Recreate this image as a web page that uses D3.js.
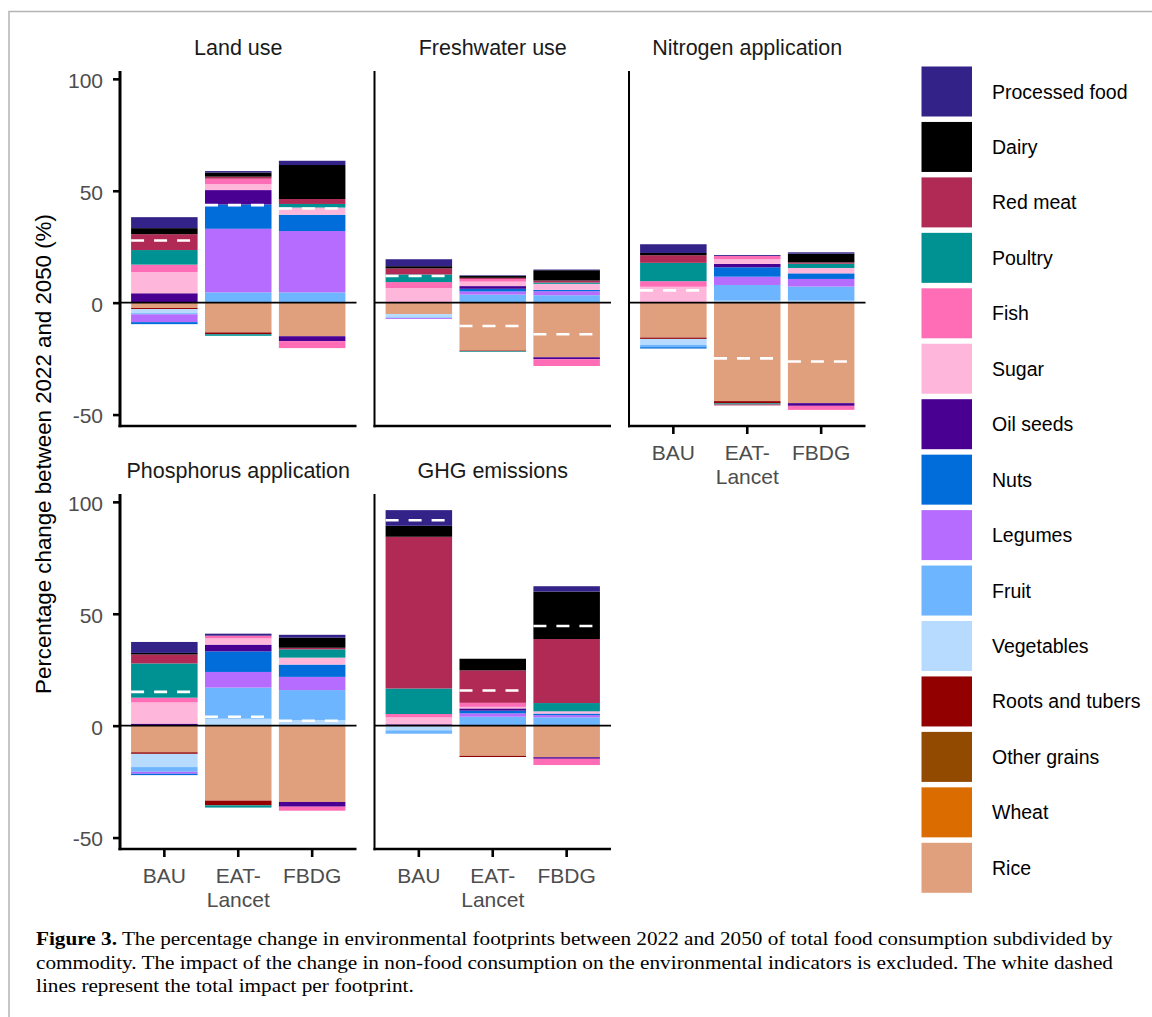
<!DOCTYPE html>
<html><head><meta charset="utf-8">
<script src="https://cdn.jsdelivr.net/npm/d3@7"></script>
<style>
html,body{margin:0;padding:0;background:#fff;}
svg{display:block;}
</style></head>
<body>
<svg id="fig" width="1152" height="1017"></svg>
<script>
// ---- data -------------------------------------------------------------
const scenarios = ["BAU", "EAT-Lancet", "FBDG"];
const scenarioTickLabels = [["BAU"], ["EAT-", "Lancet"], ["FBDG"]];
const commodities = ["Processed food", "Dairy", "Red meat", "Poultry", "Fish", "Sugar",
  "Oil seeds", "Nuts", "Legumes", "Fruit", "Vegetables", "Roots and tubers",
  "Other grains", "Wheat", "Rice"];
const commodityColors = ["#332288", "#000000", "#b02a55", "#009292", "#ff6db6", "#ffb6db",
  "#490092", "#006ddb", "#b66dff", "#6db6ff", "#b6dbff", "#920000",
  "#924900", "#db6d00", "#e09f7d"];
const indicators = ["Land use", "Freshwater use", "Nitrogen application",
  "Phosphorus application", "GHG emissions"];
const yTickValues = [-50, 0, 50, 100];

// change (%) per commodity, one row per scenario (BAU, EAT-Lancet, FBDG), commodity order as above
const landUse = [
  [4.9, 2.7, 7.1, 6.5, 3.3, 9.5, 4.2, -0.9, -3.5, -0.5, -1.8, -0.5, 0, 0, -2.4],
  [0.7, 1.8, 0.9, -0.7, 2.4, 2.7, 6.4, 10.9, 28.4, 4.6, 0, -0.8, 0, 0, -13.3],
  [1.9, 15.2, 2.2, 1.6, -3.1, 3.2, -2.2, 7.3, 27.4, 4.6, 0, 0, 0, 0, -15.0]
];
const freshwaterUse = [
  [3.1, 1.0, 2.7, 3.4, 2.7, 6.5, 0, 0, -0.4, -0.3, -1.5, 0, 0, 0, -5.1],
  [0.3, 0.8, 0.5, -0.3, 1.2, 2.0, 1.2, 1.2, 1.4, 3.6, 0, -0.3, 0, 0, -21.4],
  [0.3, 4.6, 0.9, 0.6, -3.0, 2.7, -0.9, 0.6, 1.8, 3.3, 0, 0, 0, 0, -24.4]
];
const nitrogenApplication = [
  [3.9, 1.0, 3.4, 8.2, 2.5, 7.1, 0, -0.6, 0, -1.0, -2.7, -0.6, 0, 0, -15.6],
  [0.4, 0, -0.4, -0.5, 1.5, 2.1, 1.5, 4.2, 3.7, 7.0, 0.9, -1.0, 0, 0, -44.0],
  [0.6, 3.9, 0.6, 1.9, -1.8, 2.4, -1.2, 2.5, 3.4, 6.3, 0.9, 0, 0, 0, -44.9]
];
const phosphorusApplication = [
  [4.9, 0.7, 4.0, 15.3, 2.1, 9.5, 0.9, -0.6, -0.9, -2.1, -5.9, -0.7, 0, 0, -11.9],
  [0.9, 0, 0, -1.0, 1.2, 2.8, 3.0, 9.2, 7.0, 13.9, 3.1, -2.1, 0, 0, -33.5],
  [1.3, 4.5, 0.7, 3.7, -1.8, 3.1, -2.1, 5.5, 5.9, 13.4, 2.5, 0, 0, 0, -34.1]
];
const ghgEmissions = [
  [7.0, 4.9, 67.8, 11.4, 1.5, 3.1, 0.6, 0, 0, -1.5, -1.8, 0, 0, 0, -0.3],
  [0, 5.2, 14.5, 0, 1.8, 0.7, 1.0, 1.2, 1.5, 4.0, 0, -0.5, 0, 0, -13.5],
  [2.4, 21.2, 28.6, 3.7, -2.8, 1.0, -0.7, 0.7, 1.0, 3.7, 0, 0, 0, 0, -14.1]
];
// total impact per footprint (white dashed lines), BAU / EAT-Lancet / FBDG
const totalLandUse = [27.8, 43.6, 42.1];
const totalFreshwaterUse = [11.9, -10.4, -14.1];
const totalNitrogen = [5.5, -24.9, -26.3];
const totalPhosphorus = [15.1, 4.0, 2.2];
const totalGhg = [91.8, 15.7, 44.5];

const panelValues = [landUse, freshwaterUse, nitrogenApplication, phosphorusApplication, ghgEmissions];
const panelTotals = [totalLandUse, totalFreshwaterUse, totalNitrogen, totalPhosphorus, totalGhg];

// ---- layout -----------------------------------------------------------
const svg = d3.select("#fig");
const FONT = "'Liberation Sans', Arial, Helvetica, sans-serif";
const panelW = 236.5, panelH = 355;
const colX = [120, 374.5, 629];
const rowY = [71, 494];
const panelPos = [[0, 0], [1, 0], [2, 0], [0, 1], [1, 1]];
const showXLabels = [false, false, true, true, true];

// frame around the figure
svg.append("path")
  .attr("d", "M9,1017V11.5H1152")
  .attr("fill", "none").attr("stroke", "#b4b4b4").attr("stroke-width", 1.5);

// stacking: keys from the baseline outwards (Rice nearest zero)
const stackKeys = commodities.slice().reverse();
const colorOf = d3.scaleOrdinal().domain(commodities).range(commodityColors);
const stacker = d3.stack().keys(stackKeys).offset(d3.stackOffsetDiverging);

const stacked = panelValues.map(vals => {
  const rows = scenarios.map((s, i) => {
    const r = { scenario: s };
    commodities.forEach((c, j) => { r[c] = vals[i][j]; });
    return r;
  });
  return stacker(rows);
});

// shared y-range with 5% expansion
let lo = 0, hi = 0;
stacked.forEach(series => series.forEach(s => s.forEach(d => {
  lo = Math.min(lo, d[0], d[1]); hi = Math.max(hi, d[0], d[1]);
})));
const pad = (hi - lo) * 0.05;
const yDomain = [lo - pad, hi + pad];

indicators.forEach((name, p) => {
  const [c, r] = panelPos[p];
  const x0 = colX[c], y0 = rowY[r];
  const g = svg.append("g").attr("transform", `translate(${x0},${y0})`);

  const x = d3.scaleBand().domain(scenarios).range([0, panelW])
    .paddingInner(0.1).paddingOuter(0.15);
  const y = d3.scaleLinear().domain(yDomain).range([panelH, 0]);

  // stacked commodity bars
  stacked[p].forEach(series => {
    g.append("g").attr("fill", colorOf(series.key))
      .selectAll("rect").data(series.filter(d => d[1] !== d[0])).join("rect")
      .attr("x", d => x(d.data.scenario))
      .attr("width", x.bandwidth())
      .attr("y", d => y(Math.max(d[0], d[1])))
      .attr("height", d => Math.abs(y(d[0]) - y(d[1])));
  });

  // zero reference line
  g.append("line")
    .attr("x1", 0).attr("x2", panelW)
    .attr("y1", y(0)).attr("y2", y(0))
    .attr("stroke", "#000").attr("stroke-width", 1.8);

  // total impact as white dashed segments
  g.selectAll("line.total").data(panelTotals[p]).join("line")
    .attr("class", "total")
    .attr("x1", (d, i) => x(scenarios[i]))
    .attr("x2", (d, i) => x(scenarios[i]) + x.bandwidth())
    .attr("y1", d => y(d)).attr("y2", d => y(d))
    .attr("stroke", "#fff").attr("stroke-width", 2.6)
    .attr("stroke-dasharray", "13,10");

  // axis lines
  g.append("line").attr("x1", 0).attr("x2", 0).attr("y1", 0).attr("y2", panelH + 1.3)
    .attr("stroke", "#000").attr("stroke-width", c === 0 ? 3 : 2);
  g.append("line").attr("x1", c === 0 ? -1.5 : -1).attr("x2", panelW).attr("y1", panelH).attr("y2", panelH)
    .attr("stroke", "#000").attr("stroke-width", 2.7);

  // strip title
  g.append("text")
    .attr("x", panelW / 2).attr("y", -16)
    .attr("text-anchor", "middle")
    .attr("font-family", FONT).attr("font-size", 21.5).attr("fill", "#1a1a1a")
    .text(name);

  // y axis (left column only)
  if (c === 0) {
    const ya = g.append("g")
      .call(d3.axisLeft(y).tickValues(yTickValues).tickFormat(d => String(d))
        .tickSize(7).tickPadding(10));
    ya.select(".domain").remove();
    ya.selectAll(".tick line").attr("stroke", "#000").attr("stroke-width", 2.6);
    ya.selectAll(".tick text")
      .attr("font-family", FONT).attr("font-size", 21).attr("fill", "#4d4d4d")
      .attr("dy", "0.4em");
  }

  // x axis with wrapped labels
  if (showXLabels[p]) {
    const xa = g.append("g").attr("transform", `translate(0,${panelH})`)
      .call(d3.axisBottom(x).tickSize(8).tickPadding(10.6));
    xa.select(".domain").remove();
    xa.selectAll(".tick line").attr("stroke", "#000").attr("stroke-width", 2.6);
    xa.selectAll(".tick text")
      .attr("font-family", FONT).attr("font-size", 21).attr("fill", "#4d4d4d")
      .each(function (d, i) {
        const t = d3.select(this).attr("dy", null);
        t.text(null);
        scenarioTickLabels[i].forEach((ln, j) => {
          t.append("tspan").attr("x", 0).attr("dy", j === 0 ? "0.71em" : "1.17em").text(ln);
        });
      });
  }
});

// y-axis title
svg.append("text")
  .attr("transform", "translate(51,454) rotate(-90)")
  .attr("text-anchor", "middle")
  .attr("font-family", FONT).attr("font-size", 22.3).attr("fill", "#000")
  .text("Percentage change between 2022 and 2050 (%)");

// legend
const legend = svg.append("g").attr("transform", "translate(921.5,66.5)");
const keyStep = 55.45;
const items = legend.selectAll("g").data(commodities).join("g")
  .attr("transform", (d, i) => `translate(0,${i * keyStep})`);
items.append("rect").attr("width", 50.5).attr("height", 50)
  .attr("fill", d => colorOf(d));
items.append("text")
  .attr("x", 70.5).attr("y", 25).attr("dy", "0.36em")
  .attr("font-family", FONT).attr("font-size", 19.5).attr("fill", "#000")
  .text(d => d);

// caption, stretched horizontally to the text block width
const captionWidth = 1077;
const caption = svg.append("text")
  .attr("font-family", "'Liberation Serif', 'Times New Roman', serif")
  .attr("font-size", 19.5)
  .attr("fill", "#000");
const capLines = [
  [["Figure 3.", true], [" The percentage change in environmental footprints between 2022 and 2050 of total food consumption subdivided by", false]],
  [["commodity. The impact of the change in non-food consumption on the environmental indicators is excluded. The white dashed", false]],
  [["lines represent the total impact per footprint.", false]]
];
const capBase = [945.5, 969, 992.5];
const capTspans = capLines.map((parts, li) => {
  const line = caption.append("tspan").attr("x", 0).attr("y", capBase[li]);
  parts.forEach(([txt, bold]) => {
    line.append("tspan").attr("font-weight", bold ? "bold" : null).text(txt);
  });
  return line;
});
const firstLineW = capTspans[0].node().getComputedTextLength();
const sx = firstLineW > 0 ? captionWidth / firstLineW : 1;
caption.attr("transform", `translate(36,0) scale(${sx},1)`);
</script>
</body></html>
